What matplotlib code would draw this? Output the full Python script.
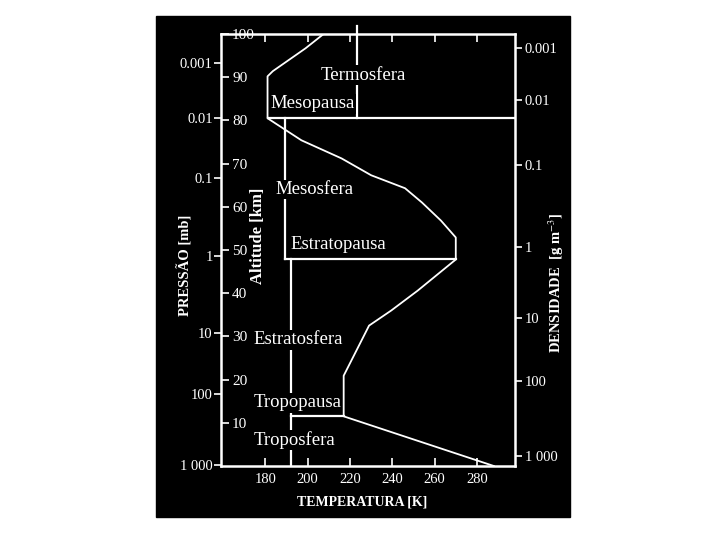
import matplotlib
matplotlib.use('Agg')
import matplotlib.pyplot as plt
from matplotlib.patches import Rectangle

plt.rcParams['font.family'] = ['Liberation Serif', 'DejaVu Serif']
plt.rcParams['mathtext.fontset'] = 'stix'

# temperature profile (K vs km)
temp = [288, 217, 217, 229, 239.5, 252, 270, 270, 263, 254, 246, 230, 216, 197, 181, 181, 183.5, 199, 207.5]
alt = [0, 11.5, 20.9, 32.5, 36, 40.6, 47.8, 52.9, 56.8, 61, 64.3, 67.3, 71.2, 75.4, 80.5, 90.2, 91.4, 96.7, 100]

# axes ticks
alt_ticks = [10, 20, 30, 40, 50, 60, 70, 80, 90, 100]
temp_ticks = [180, 200, 220, 240, 260, 280]
pres_labels = ['0.001', '0.01', '0.1', '1', '10', '100', '1 000']
pres_alt = [93.3, 80.5, 66.6, 48.7, 30.8, 16.7, 0.2]
dens_labels = ['0.001', '0.01', '0.1', '1', '10', '100', '1 000']
dens_alt = [96.7, 84.7, 69.6, 50.8, 34.3, 19.7, 2.3]

# layer boundaries
mesopausa_alt = 80.6
estratopausa_alt = 48
tropopausa_alt = 11.5
termo_t = 223.4
meso_t = 189.4
estrato_t = 192.3

# layer names
layers = ['Termosfera', 'Mesopausa', 'Mesosfera', 'Estratopausa', 'Estratosfera', 'Tropopausa', 'Troposfera']
layer_t = [205.9, 182.4, 184.7, 191.8, 174.3, 174.3, 174.3]
layer_alt = [90.5, 83.8, 64.0, 51.3, 29.2, 14.6, 6.0]

fig = plt.figure(figsize=(7.2, 5.4), dpi=100)
fig.patch.set_facecolor('white')
fig.add_artist(Rectangle((156/720, 1-517/540), (570-156)/720, (517-16)/540,
                         transform=fig.transFigure, color='black', zorder=0))

ax = fig.add_axes([221/720, 1-466/540, (515-221)/720, (466-34)/540])
ax.set_facecolor('black')
ax.set_xlim(159, 298)
ax.set_ylim(0, 100)

# partition lines
lw = 1.6
ax.plot([termo_t, termo_t], [mesopausa_alt, 101.8], color='white', lw=lw, zorder=2, clip_on=False)
ax.plot([181, 298], [mesopausa_alt, mesopausa_alt], color='white', lw=lw, zorder=2)
ax.plot([meso_t, meso_t], [mesopausa_alt, estratopausa_alt], color='white', lw=lw, zorder=2)
ax.plot([meso_t, 270], [estratopausa_alt, estratopausa_alt], color='white', lw=lw, zorder=2)
ax.plot([estrato_t, estrato_t], [estratopausa_alt, 0], color='white', lw=lw, zorder=2)
ax.plot([estrato_t, 217], [tropopausa_alt, tropopausa_alt], color='white', lw=lw, zorder=2)

# temperature curve
ax.plot(temp, alt, color='white', lw=1.3, zorder=5)

for name, t, a in zip(layers, layer_t, layer_alt):
    ax.text(t, a, name, color='white', fontsize=13.5, ha='left', va='center', zorder=4,
            bbox=dict(facecolor='black', edgecolor='none', pad=1))

# spines
for s in ax.spines.values():
    s.set_color('white')
    s.set_linewidth(1.8)

# pressure ticks (left, outward)
ax.set_yticks(pres_alt)
ax.set_yticklabels(pres_labels)
ax.tick_params(axis='y', colors='white', direction='out', length=5, width=1.2, labelsize=10.5, pad=1)

# temperature ticks (bottom and top, inward)
ax.set_xticks(temp_ticks)
ax.tick_params(axis='x', colors='white', direction='in', length=6, width=1.2, labelsize=10.5,
               top=True, pad=5)

# altitude ticks (inside, left)
ax_alt = ax.twinx()
ax_alt.set_ylim(0, 100)
ax_alt.yaxis.tick_left()
ax_alt.set_yticks(alt_ticks)
ax_alt.tick_params(axis='y', colors='white', direction='in', length=6, width=1.2, labelsize=11, pad=-8)
for lab in ax_alt.get_yticklabels():
    lab.set_horizontalalignment('left')
for s in ax_alt.spines.values():
    s.set_visible(False)

# density ticks (right, outward)
ax_d = ax.twinx()
ax_d.set_ylim(0, 100)
ax_d.set_yticks(dens_alt)
ax_d.set_yticklabels(dens_labels)
ax_d.tick_params(axis='y', colors='white', direction='out', length=5, width=1.2, labelsize=10.5, pad=2)
for s in ax_d.spines.values():
    s.set_visible(False)

fig.text(185/720, 1-265/540, 'PRESSÃO [mb]', color='white', fontsize=10.5, rotation=90,
         ha='center', va='center', fontweight='bold')
fig.text(258/720, 1-236/540, 'Altitude [km]', color='white', fontsize=12, rotation=90,
         ha='center', va='center', fontweight='bold')
fig.text(556/720, 1-283/540, r'DENSIDADE  [g m$^{-3}$]', color='white', fontsize=10.5, rotation=90,
         ha='center', va='center', fontweight='bold')
fig.text(362/720, 1-502/540, 'TEMPERATURA [K]', color='white', fontsize=10,
         ha='center', va='center', fontweight='bold')

fig.savefig('out.png', dpi=100, facecolor='white')
